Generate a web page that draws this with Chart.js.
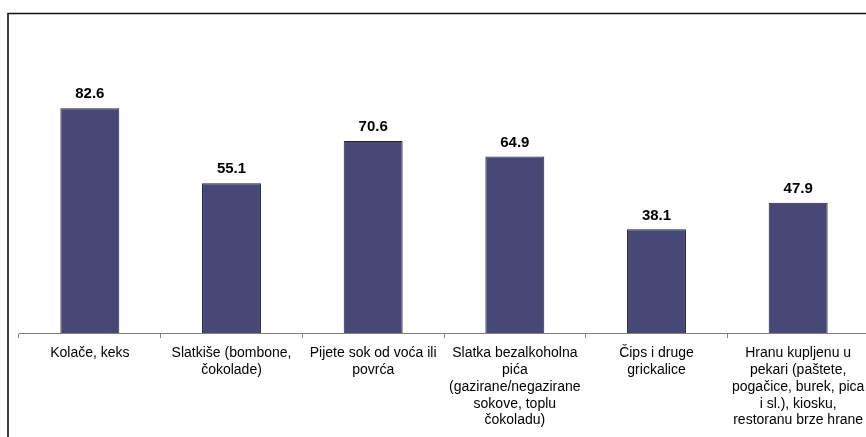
<!DOCTYPE html>
<html>
<head>
<meta charset="utf-8">
<script src="https://cdn.jsdelivr.net/npm/chart.js@4"></script>
<style>
html,body{margin:0;padding:0;overflow:hidden;background:#fff;width:866px;height:437px;}
canvas{display:block;}
</style>
</head>
<body>
<canvas id="c" width="872" height="437" style="width:872px;height:437px"></canvas>
<script>
const categories = [
  ["Kolače, keks"],
  ["Slatkiše (bombone,", "čokolade)"],
  ["Pijete sok od voća ili", "povrća"],
  ["Slatka bezalkoholna", "pića", "(gazirane/negazirane", "sokove, toplu", "čokoladu)"],
  ["Čips i druge", "grickalice"],
  ["Hranu kupljenu u", "pekari (paštete,", "pogačice, burek, pica", "i sl.), kiosku,", "restoranu brze hrane"]
];
const values = [82.6, 55.1, 70.6, 64.9, 38.1, 47.9];

const FONT = "'Liberation Sans', Arial, sans-serif";

const framePlugin = {
  id: 'frame',
  beforeDraw(chart) {
    const ctx = chart.ctx;
    ctx.save();
    ctx.fillStyle = '#fff';
    ctx.fillRect(0, 0, chart.width, chart.height);
    ctx.strokeStyle = '#111';
    ctx.lineWidth = 1.6;
    ctx.beginPath();
    ctx.moveTo(8, chart.height + 2);
    ctx.lineTo(8, 13.5);
    ctx.lineTo(chart.width + 2, 13.5);
    ctx.stroke();
    ctx.restore();
  }
};

const labelPlugin = {
  id: 'vals',
  afterDatasetsDraw(chart) {
    const ctx = chart.ctx;
    const meta = chart.getDatasetMeta(0);
    ctx.save();
    ctx.font = "bold 15px " + FONT;
    ctx.fillStyle = '#000';
    ctx.textAlign = 'center';
    ctx.textBaseline = 'middle';
    meta.data.forEach((bar, i) => {
      ctx.fillText(values[i].toFixed(1), bar.x, bar.y - 14);
    });
    ctx.restore();
  }
};

new Chart(document.getElementById('c'), {
  type: 'bar',
  data: {
    labels: categories,
    datasets: [{
      data: values,
      backgroundColor: '#484877',
      borderColor: '#1f1f3d',
      borderWidth: 1,
      categoryPercentage: 1,
      barPercentage: 0.416
    }]
  },
  options: {
    responsive: false,
    animation: false,
    layout: { padding: { top: 61, left: 19, right: 3, bottom: 0 } },
    plugins: { legend: { display: false }, tooltip: { enabled: false } },
    scales: {
      x: {
        offset: true,
        grid: { offset: true, drawOnChartArea: false, drawTicks: true, tickLength: 5, color: '#808080' },
        border: { color: '#808080', width: 1 },
        ticks: { font: { size: 14, family: FONT, lineHeight: 1.2 }, color: '#000', padding: 7, maxRotation: 0, minRotation: 0, autoSkip: false },
        afterFit(s) { s.height = 104; }
      },
      y: { display: false, min: 0, max: 100 }
    }
  },
  plugins: [framePlugin, labelPlugin]
});
</script>
</body>
</html>
